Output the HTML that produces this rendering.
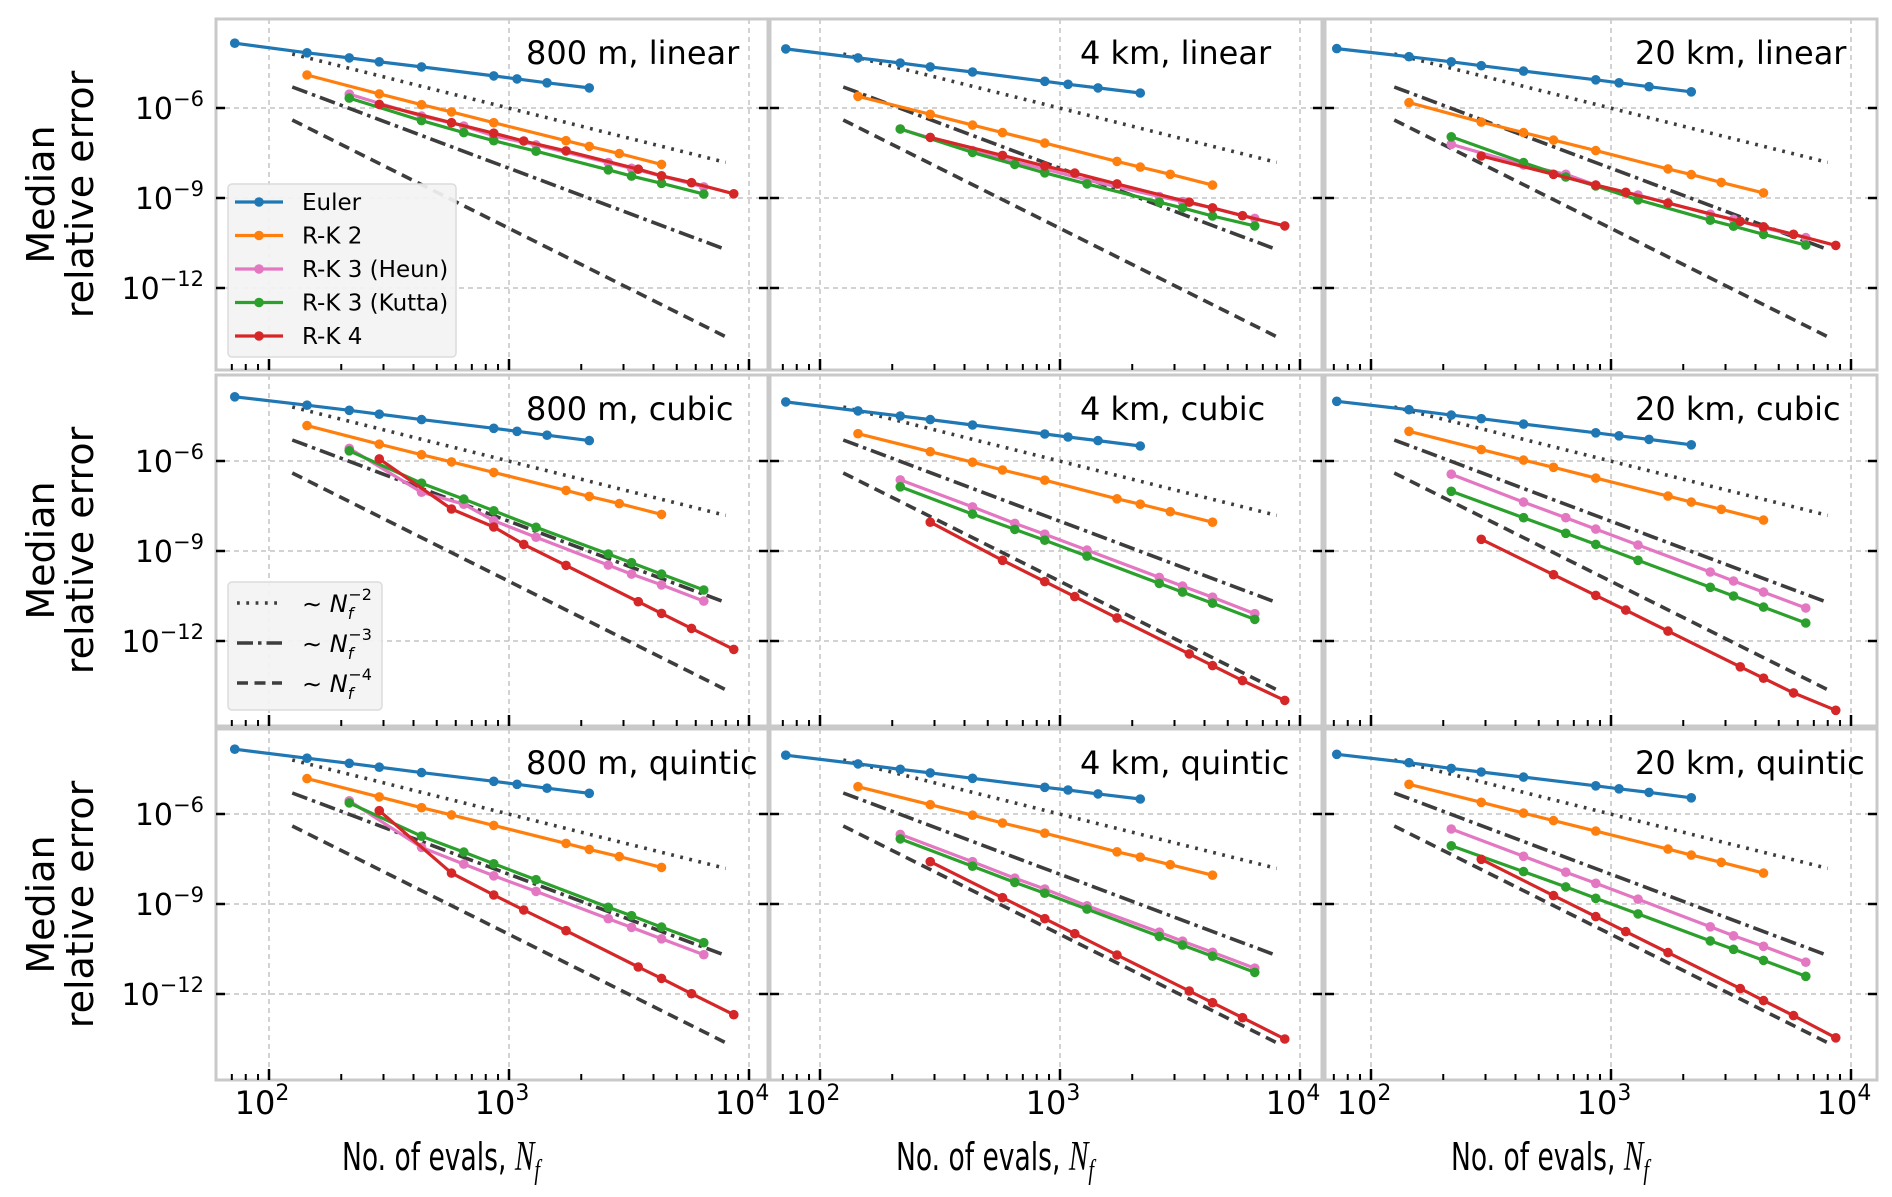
<!DOCTYPE html>
<html><head><meta charset="utf-8"><style>
html,body{margin:0;padding:0;background:#fff}
svg{display:block}
text{font-family:"DejaVu Sans","Liberation Sans",sans-serif}
</style></head><body>
<svg id="fig" xmlns="http://www.w3.org/2000/svg" width="1892" height="1197" viewBox="0 0 1892 1197">
<rect x="0" y="0" width="1892" height="1197" fill="#fff"/>
</svg>
<script>
// ---- data: log10(median relative error) per panel (order: 800m/4km/20km × linear/cubic/quintic) ----
const panelTitles = ['800 m, linear','4 km, linear','20 km, linear','800 m, cubic','4 km, cubic','20 km, cubic','800 m, quintic','4 km, quintic','20 km, quintic'];
const nEuler = [72,144,216,288,432,864,1080,1440,2160];
const nRK2 = [144,288,432,576,864,1728,2160,2880,4320];
const nRK3 = [216,432,648,864,1296,2592,3240,4320,6480];
const nRK4 = [288,576,864,1152,1728,3456,4320,5760,8640];
const errEuler = [
 [-3.84,-4.16,-4.33,-4.46,-4.63,-4.93,-5.03,-5.16,-5.33],
 [-4.03,-4.33,-4.5,-4.63,-4.8,-5.11,-5.21,-5.33,-5.5],
 [-4.02,-4.29,-4.46,-4.59,-4.77,-5.06,-5.16,-5.29,-5.46],
 [-3.86,-4.14,-4.31,-4.44,-4.62,-4.91,-5.01,-5.14,-5.32],
 [-4.03,-4.33,-4.5,-4.62,-4.8,-5.1,-5.2,-5.32,-5.5],
 [-4.01,-4.29,-4.47,-4.59,-4.77,-5.06,-5.16,-5.28,-5.46],
 [-3.84,-4.14,-4.31,-4.44,-4.62,-4.91,-5.01,-5.14,-5.31],
 [-4.04,-4.33,-4.51,-4.63,-4.81,-5.11,-5.2,-5.33,-5.5],
 [-4.01,-4.29,-4.48,-4.6,-4.77,-5.06,-5.16,-5.28,-5.46]];
const errRK2 = [
 [-4.9,-5.53,-5.89,-6.13,-6.49,-7.09,-7.28,-7.52,-7.88],
 [-5.61,-6.21,-6.57,-6.82,-7.17,-7.78,-7.97,-8.21,-8.57],
 [-5.82,-6.47,-6.82,-7.07,-7.42,-8.03,-8.22,-8.48,-8.83],
 [-4.82,-5.44,-5.79,-6.03,-6.38,-6.98,-7.18,-7.42,-7.78],
 [-5.09,-5.69,-6.04,-6.3,-6.64,-7.26,-7.44,-7.69,-8.04],
 [-5.01,-5.62,-5.97,-6.21,-6.57,-7.17,-7.37,-7.61,-7.97],
 [-4.82,-5.43,-5.79,-6.03,-6.38,-6.98,-7.18,-7.42,-7.78],
 [-5.09,-5.69,-6.04,-6.3,-6.64,-7.26,-7.44,-7.69,-8.04],
 [-5.01,-5.61,-5.97,-6.22,-6.57,-7.17,-7.37,-7.61,-7.97]];
const errHeun = [
 [-5.54,-6.27,-6.6,-6.93,-7.23,-7.82,-8.01,-8.27,-8.63],
 [-6.7,-7.42,-7.8,-8.03,-8.4,-8.95,-9.12,-9.33,-9.68],
 [-7.21,-7.9,-8.21,-8.57,-8.9,-9.54,-9.71,-9.99,-10.32],
 [-5.58,-7.04,-7.44,-7.99,-8.54,-9.47,-9.77,-10.13,-10.67],
 [-6.63,-7.53,-8.08,-8.44,-8.97,-9.88,-10.17,-10.54,-11.09],
 [-6.44,-7.37,-7.89,-8.27,-8.8,-9.7,-10.0,-10.37,-10.9],
 [-5.56,-7.11,-7.67,-8.06,-8.58,-9.49,-9.78,-10.16,-10.69],
 [-6.68,-7.59,-8.14,-8.5,-9.06,-9.94,-10.24,-10.61,-11.14],
 [-6.5,-7.41,-7.94,-8.31,-8.84,-9.76,-10.06,-10.41,-10.94]];
const errKutta = [
 [-5.67,-6.42,-6.82,-7.09,-7.44,-8.06,-8.27,-8.51,-8.87],
 [-6.7,-7.48,-7.88,-8.16,-8.53,-9.14,-9.33,-9.6,-9.93],
 [-6.96,-7.82,-8.3,-8.6,-9.06,-9.74,-9.94,-10.21,-10.57],
 [-5.66,-6.74,-7.27,-7.66,-8.21,-9.1,-9.39,-9.77,-10.3],
 [-6.86,-7.77,-8.28,-8.64,-9.17,-10.08,-10.37,-10.74,-11.28],
 [-7.01,-7.89,-8.41,-8.78,-9.31,-10.21,-10.5,-10.87,-11.4],
 [-5.63,-6.74,-7.27,-7.66,-8.19,-9.11,-9.39,-9.77,-10.29],
 [-6.83,-7.74,-8.28,-8.64,-9.17,-10.08,-10.37,-10.74,-11.28],
 [-7.06,-7.92,-8.43,-8.81,-9.33,-10.23,-10.51,-10.88,-11.41]];
const errRK4 = [
 [-5.88,-6.49,-6.84,-7.1,-7.43,-8.04,-8.26,-8.49,-8.86],
 [-6.98,-7.58,-7.93,-8.17,-8.53,-9.14,-9.33,-9.59,-9.93],
 [-7.6,-8.21,-8.57,-8.81,-9.17,-9.78,-9.96,-10.21,-10.58],
 [-5.93,-7.6,-8.2,-8.78,-9.48,-10.69,-11.08,-11.58,-12.28],
 [-8.04,-9.31,-10.02,-10.52,-11.23,-12.43,-12.82,-13.32,-13.98],
 [-8.61,-9.79,-10.48,-10.97,-11.67,-12.86,-13.24,-13.73,-14.31],
 [-5.89,-7.97,-8.7,-9.2,-9.89,-11.1,-11.48,-11.99,-12.69],
 [-7.59,-8.79,-9.49,-9.99,-10.7,-11.9,-12.29,-12.79,-13.5],
 [-7.51,-8.72,-9.42,-9.92,-10.62,-11.82,-12.22,-12.72,-13.46]];
const refN = [125,8000];
const refOrders = [2,3,4];
const refStartLog = [-4.2,-5.3,-6.4];
const xTickExps = [2,3,4];
const yTickExps = [-6,-9,-12];

// ---- layout ----
const NS='http://www.w3.org/2000/svg';
const svg=document.getElementById('fig');
const colLeft=[216,770,1325], rowTop=[19,375,729], PW=552, PH=351;
const x100=[269,820,1371], y6=[108,461,814], DX=240, DY=30;
function xs(c,n){return x100[c]+(Math.log10(n)-2)*DX;}
function ys(r,l){return y6[r]+(-6-l)*DY;}
function mk(tag,attrs,parent){const e=document.createElementNS(NS,tag);for(const k in attrs)e.setAttribute(k,attrs[k]);(parent||svg).appendChild(e);return e;}

const series=[
 {name:'euler',label:'Euler',color:'#1f77b4',n:nEuler,err:errEuler},
 {name:'rk2',label:'R-K 2',color:'#ff7f0e',n:nRK2,err:errRK2},
 {name:'rk3-heun',label:'R-K 3 (Heun)',color:'#e377c2',n:nRK3,err:errHeun},
 {name:'rk3-kutta',label:'R-K 3 (Kutta)',color:'#2ca02c',n:nRK3,err:errKutta},
 {name:'rk4',label:'R-K 4',color:'#d62728',n:nRK4,err:errRK4}];
const refDashes=['2.8,6.5','16,5,3.5,5','11,6.5'];

for(let p=0;p<9;p++){
  const c=p%3, r=Math.floor(p/3);
  const L=colLeft[c], T=rowTop[r];
  const g=mk('g',{});
  
  
  const cp=mk('clipPath',{id:'cp'+p},g);
  mk('rect',{x:L,y:T,width:PW,height:PH},cp);
  for(const e of xTickExps){
    const gx=xs(c,Math.pow(10,e));
    const gl=mk('line',{x1:gx,x2:gx,y1:T,y2:T+PH,stroke:'#c4c4c4','stroke-width':1.5,'stroke-dasharray':'5,4'},g);
    
    
  }
  for(const e of yTickExps){
    const gy=ys(r,e);
    const gl=mk('line',{x1:L,x2:L+PW,y1:gy,y2:gy,stroke:'#c4c4c4','stroke-width':1.5,'stroke-dasharray':'5,4'},g);
    
    
  }
  const plot=mk('g',{'clip-path':'url(#cp'+p+')'},g);
  for(let k=0;k<refOrders.length;k++){
    const l0=refStartLog[k], l1=l0-refOrders[k]*(Math.log10(refN[1])-Math.log10(refN[0]));
    const rl=mk('line',{x1:xs(c,refN[0]),y1:ys(r,l0),x2:xs(c,refN[1]),y2:ys(r,l1),stroke:'#3d3d3d','stroke-width':3.6,'stroke-dasharray':refDashes[k]},plot);
    
    
  }
  for(const s of series){
    const ev=s.err[p];
    const pts=s.n.map((n,i)=>xs(c,n).toFixed(1)+','+ys(r,ev[i]).toFixed(1)).join(' ');
    const pl=mk('polyline',{points:pts,fill:'none',stroke:s.color,'stroke-width':3.2,'stroke-linejoin':'round'},plot);
    
    
    s.n.forEach((n,i)=>{
      const m=mk('circle',{cx:xs(c,n),cy:ys(r,ev[i]),r:4.8,fill:s.color},plot);
      
      
    });
  }
  const fr=mk('rect',{x:L,y:T,width:PW,height:PH,fill:'none',stroke:'#c9c9c9','stroke-width':3},g);
  
  
  for(const e of yTickExps){
    const ty=ys(r,e);
    mk('line',{x1:L,x2:L+9,y1:ty,y2:ty,stroke:'#000','stroke-width':2.5},g);
    mk('line',{x1:L+PW-9,x2:L+PW,y1:ty,y2:ty,stroke:'#000','stroke-width':2.5},g);
    if(c===0){
      const t=mk('text',{x:204,y:ty+11,'text-anchor':'end','font-size':30,fill:'#000'},g);
      
      
      t.appendChild(document.createTextNode('10'));
      const sp=mk('tspan',{dy:-13,'font-size':21},t);
      sp.textContent='\u2212'+(-e);
    }
  }
  for(let d=1;d<=4;d++){
    for(let m=1;m<=9;m++){
      const n=m*Math.pow(10,d);
      const tx=xs(c,n);
      if(tx<L+2||tx>L+PW-2)continue;
      const len=(m===1)?11:6;
      mk('line',{x1:tx,x2:tx,y1:T+PH,y2:T+PH-len,stroke:'#000','stroke-width':(m===1)?2.5:2},g);
    }
  }
  const tt=mk('text',{x:L+310,y:T+45,'font-size':32,fill:'#000'},g);
  
  
  tt.textContent=panelTitles[p];
}

for(let c=0;c<3;c++){
  for(const e of xTickExps){
    const t=mk('text',{x:xs(c,Math.pow(10,e))-7,y:1114,'text-anchor':'middle','font-size':32,fill:'#000'});
    
    
    t.appendChild(document.createTextNode('10'));
    const sp=mk('tspan',{dy:-14,'font-size':22},t);
    sp.textContent=String(e);
  }
  const xl=mk('text',{x:colLeft[c]+126,y:1170,'font-size':38,fill:'#000',textLength:198,lengthAdjust:'spacingAndGlyphs'});
  
  
  xl.appendChild(document.createTextNode('No. of evals, '));
  const nn=mk('tspan',{'font-family':'Liberation Serif, serif','font-style':'italic','font-size':42},xl);
  nn.textContent='N';
  const ff=mk('tspan',{'font-family':'Liberation Serif, serif','font-style':'italic','font-size':29,dy:9},xl);
  ff.textContent='f';
}
for(let r=0;r<3;r++){
  const cy=rowTop[r]+PH/2;
  const t1=mk('text',{x:0,y:0,'font-size':38,'text-anchor':'middle',fill:'#000',transform:'translate(54,'+cy+') rotate(-90)'});
  
  
  t1.textContent='Median';
  const t2=mk('text',{x:0,y:0,'font-size':38,'text-anchor':'middle',fill:'#000',transform:'translate(93,'+cy+') rotate(-90)'});
  
  
  t2.textContent='relative error';
}
const lg=mk('g',{});


mk('rect',{x:228,y:184,width:228,height:173,rx:4,fill:'#f3f3f3','fill-opacity':0.92,stroke:'#dcdcdc','stroke-width':1.5},lg);
series.forEach((s,i)=>{
  const yy=202+i*33.5;
  const e=mk('g',{},lg);
  
  
  mk('line',{x1:235,x2:283,y1:yy,y2:yy,stroke:s.color,'stroke-width':3.2},e);
  mk('circle',{cx:259,cy:yy,r:4.8,fill:s.color},e);
  const t=mk('text',{x:302,y:yy+8,'font-size':23,fill:'#000'},e);
  t.textContent=s.label;
});
const lg2=mk('g',{});


mk('rect',{x:228,y:582,width:154,height:128,rx:4,fill:'#f3f3f3','fill-opacity':0.92,stroke:'#dcdcdc','stroke-width':1.5},lg2);
refOrders.forEach((o,i)=>{
  const yy=603+i*40;
  const e=mk('g',{},lg2);
  
  
  mk('line',{x1:237,x2:282,y1:yy,y2:yy,stroke:'#3d3d3d','stroke-width':3.6,'stroke-dasharray':refDashes[i]},e);
  const t=mk('text',{x:302,y:yy+9,'font-size':24,fill:'#000','font-family':'Liberation Serif, serif'},e);
  t.appendChild(document.createTextNode('\u223C '));
  const a=mk('tspan',{'font-style':'italic'},t); a.textContent='N';
  const b=mk('tspan',{'font-style':'italic','font-size':16,dy:7},t); b.textContent='f';
  const cc=mk('tspan',{'font-size':16,dy:-19,dx:-5},t); cc.textContent='\u2212'+o;
});
</script>
</body></html>
